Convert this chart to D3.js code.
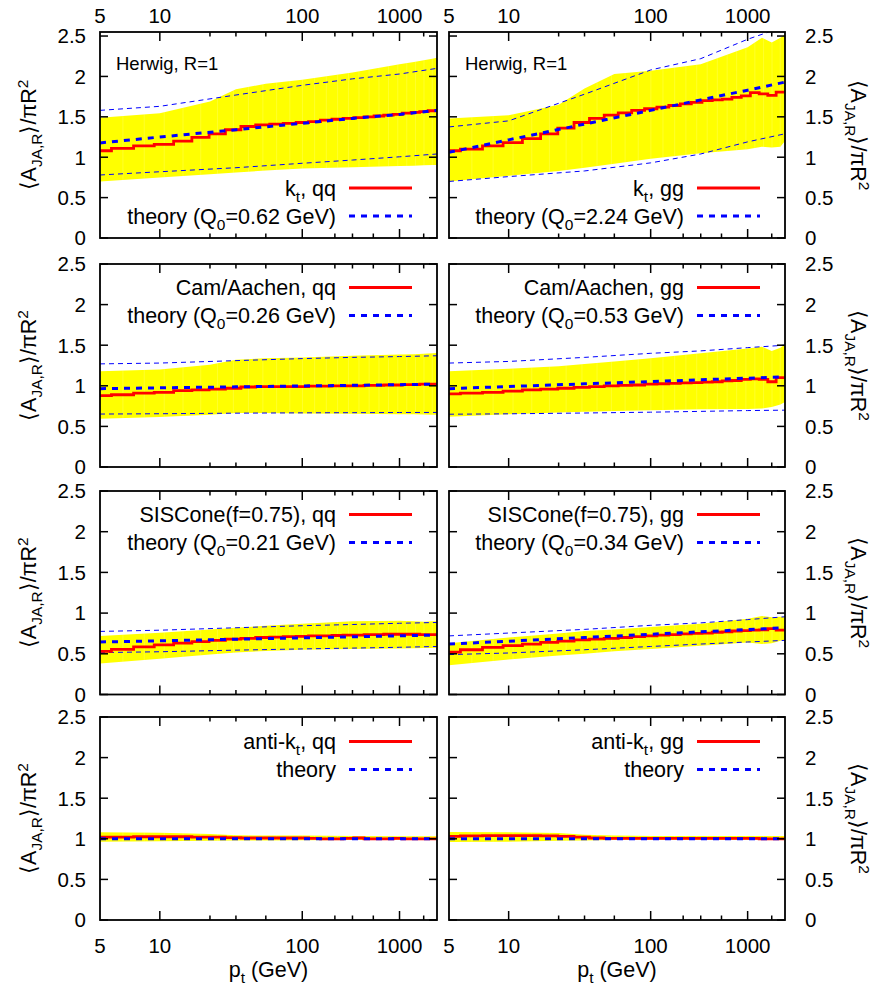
<!DOCTYPE html>
<html><head><meta charset="utf-8">
<script src="https://cdn.jsdelivr.net/npm/d3@7"></script>
<style>
body{margin:0;background:#fff}
svg{display:block}
text{font-family:"Liberation Sans",Arial,Helvetica,sans-serif;fill:#000}
</style>
</head><body>
<svg id="chart" width="876" height="992"></svg>
<script>
// ---------- axis values ----------
const ptGrid = [5, 6.42, 8.24, 10.58, 13.59, 17.45, 22.41, 28.77, 36.95, 47.44, 60.9, 78.2, 100.4, 128.9, 165.6, 212.6, 273.0, 350.5, 450.1, 578, 742, 953, 1224, 1571, 2018, 2591];
const bandPts = [5, 10, 20, 30, 50, 100, 300, 1000, 1500, 2000, 2600, 3000];
const theoryPts = [5, 10, 30, 100, 300, 1000, 3000];
const xTicksMajor = [10, 100, 1000];
const xTicksMinor = [20, 30, 50, 200, 300, 500, 2000];
const xTickLabels = [5, 10, 100, 1000];
const yTicks = [0, 0.5, 1, 1.5, 2, 2.5];
const xDomain = [5, 3000];

// ---------- kt, qq ----------
const ktQQ_mc = [1.08,1.11,1.14,1.16,1.20,1.245,1.29,1.34,1.38,1.40,1.41,1.42,1.43,1.44,1.46,1.47,1.48,1.49,1.50,1.51,1.52,1.53,1.545,1.555,1.565,1.575];
const ktQQ_bandLo = [0.70,0.75,0.79,0.81,0.835,0.86,0.875,0.89,0.895,0.90,0.905,0.905];
const ktQQ_bandHi = [1.49,1.545,1.69,1.84,1.91,1.96,2.05,2.15,2.18,2.20,2.22,2.23];
const ktQQ_theory = [1.177,1.25,1.34,1.42,1.48,1.53,1.58];
const ktQQ_theoryHi = [1.58,1.63,1.77,1.89,1.97,2.03,2.10];
const ktQQ_theoryLo = [0.78,0.82,0.87,0.925,0.965,1.005,1.04];

// ---------- kt, gg ----------
const ktGG_mc = [1.08,1.10,1.14,1.18,1.23,1.29,1.36,1.43,1.48,1.52,1.55,1.58,1.60,1.62,1.64,1.66,1.68,1.70,1.71,1.72,1.74,1.76,1.80,1.785,1.765,1.805];
const ktGG_bandLo = [0.70,0.77,0.83,0.87,0.92,0.98,1.05,1.10,1.13,1.12,1.13,1.20];
const ktGG_bandHi = [1.48,1.52,1.65,1.85,2.03,2.07,2.15,2.36,2.48,2.42,2.48,2.52];
const ktGG_theory = [1.06,1.215,1.41,1.58,1.71,1.83,1.93];
const ktGG_theoryHi = [1.375,1.45,1.78,2.08,2.22,2.46,2.62];
const ktGG_theoryLo = [0.70,0.76,0.83,0.93,1.04,1.19,1.29];

// ---------- Cam/Aachen, qq ----------
const caQQ_mc = [0.88,0.89,0.91,0.92,0.94,0.95,0.96,0.97,0.985,0.99,0.99,0.99,0.99,0.995,0.995,1.0,1.0,1.0,1.005,1.005,1.01,1.01,1.015,1.015,1.02,1.02];
const caQQ_bandLo = [0.595,0.615,0.645,0.665,0.665,0.66,0.655,0.65,0.65,0.648,0.645,0.645];
const caQQ_bandHi = [1.18,1.20,1.26,1.32,1.34,1.35,1.37,1.385,1.39,1.395,1.40,1.405];
const caQQ_theory = [0.965,0.975,0.987,0.998,1.006,1.014,1.02];
const caQQ_theoryHi = [1.27,1.28,1.31,1.335,1.35,1.36,1.37];
const caQQ_theoryLo = [0.652,0.656,0.663,0.667,0.669,0.671,0.672];

// ---------- Cam/Aachen, gg ----------
const caGG_mc = [0.90,0.91,0.92,0.935,0.95,0.96,0.97,0.98,0.99,1.0,1.005,1.01,1.02,1.025,1.03,1.035,1.04,1.045,1.05,1.06,1.065,1.08,1.085,1.08,1.05,1.10];
const caGG_bandLo = [0.62,0.65,0.67,0.68,0.69,0.70,0.71,0.715,0.72,0.74,0.77,0.80];
const caGG_bandHi = [1.18,1.21,1.24,1.27,1.30,1.34,1.40,1.46,1.48,1.43,1.47,1.51];
const caGG_theory = [0.965,0.991,1.024,1.052,1.074,1.094,1.11];
const caGG_theoryHi = [1.28,1.30,1.35,1.40,1.43,1.47,1.50];
const caGG_theoryLo = [0.65,0.655,0.665,0.675,0.685,0.695,0.70];

// ---------- SISCone, qq ----------
const scQQ_mc = [0.53,0.555,0.585,0.61,0.63,0.65,0.665,0.68,0.69,0.70,0.705,0.71,0.715,0.72,0.72,0.725,0.73,0.73,0.735,0.735,0.74,0.74,0.74,0.74,0.735,0.735];
const scQQ_bandLo = [0.38,0.44,0.49,0.515,0.535,0.55,0.56,0.565,0.567,0.57,0.57,0.57];
const scQQ_bandHi = [0.72,0.76,0.80,0.82,0.845,0.87,0.90,0.905,0.90,0.895,0.90,0.90];
const scQQ_theory = [0.645,0.66,0.679,0.696,0.709,0.721,0.73];
const scQQ_theoryHi = [0.775,0.79,0.82,0.845,0.86,0.875,0.885];
const scQQ_theoryLo = [0.515,0.525,0.545,0.56,0.57,0.58,0.59];

// ---------- SISCone, gg ----------
const scGG_mc = [0.52,0.55,0.58,0.60,0.62,0.64,0.655,0.67,0.68,0.69,0.70,0.71,0.72,0.73,0.735,0.745,0.75,0.755,0.765,0.77,0.78,0.785,0.79,0.795,0.81,0.79];
const scGG_bandLo = [0.36,0.43,0.48,0.50,0.53,0.56,0.60,0.64,0.62,0.63,0.66,0.67];
const scGG_bandHi = [0.63,0.70,0.75,0.78,0.80,0.83,0.87,0.93,0.965,0.95,0.955,0.955];
const scGG_theory = [0.62,0.655,0.70,0.74,0.77,0.798,0.82];
const scGG_theoryHi = [0.72,0.755,0.80,0.85,0.88,0.92,0.955];
const scGG_theoryLo = [0.49,0.51,0.55,0.59,0.62,0.645,0.665];

// ---------- anti-kt, qq ----------
const akQQ_mc = [1.02,1.02,1.025,1.025,1.025,1.02,1.02,1.015,1.01,1.01,1.01,1.01,1.01,1.005,1.0,1.0,1.005,1.01,1.0,1.0,1.0,1.005,1.0,1.0,1.0,1.0];
const akQQ_bandLo = [0.965,0.97,0.975,0.978,0.98,0.982,0.985,0.985,0.985,0.985,0.985,0.985];
const akQQ_bandHi = [1.08,1.075,1.06,1.045,1.04,1.04,1.035,1.03,1.03,1.03,1.03,1.03];
const akQQ_theory = [1,1,1,1,1,1,1];

// ---------- anti-kt, gg ----------
const akGG_mc = [1.03,1.035,1.04,1.04,1.04,1.035,1.03,1.02,1.01,1.005,1.005,1.005,1.005,1.005,1.005,1.005,1.005,1.005,1.005,1.005,1.005,1.005,1.005,1.0,1.0,1.0];
const akGG_bandLo = [0.96,0.965,0.975,0.98,0.985,0.985,0.985,0.985,0.985,0.985,0.985,0.985];
const akGG_bandHi = [1.085,1.08,1.07,1.05,1.04,1.035,1.035,1.035,1.035,1.035,1.035,1.035];
const akGG_theory = [1,1,1,1,1,1,1];

// ---------- labels ----------
const legendMC = ["k_{t}, qq","k_{t}, gg","Cam/Aachen, qq","Cam/Aachen, gg","SISCone(f=0.75), qq","SISCone(f=0.75), gg","anti-k_{t}, qq","anti-k_{t}, gg"];
const legendTheory = ["theory (Q_{0}=0.62 GeV)","theory (Q_{0}=2.24 GeV)","theory (Q_{0}=0.26 GeV)","theory (Q_{0}=0.53 GeV)","theory (Q_{0}=0.21 GeV)","theory (Q_{0}=0.34 GeV)","theory","theory"];
const yTitle = "⟨A_{JA,R}⟩/πR^{2}";
const xTitle = "p_{t} (GeV)";
const cornerNote = "Herwig, R=1";

// ---------- layout ----------
const LAMBDA = Math.exp(-1.65);
const tr = v => Math.log(Math.log(v / LAMBDA));
const cols = [{x0:100, x1:437}, {x0:449, x1:785}];
const rows = [{top:32, bottom:238, ymax:2.55, leg:[156,184]},
              {top:264, bottom:467, ymax:2.5, leg:[23.5,51.5]},
              {top:491, bottom:694.5, ymax:2.5, leg:[23.5,51.5]},
              {top:717, bottom:920, ymax:2.5, leg:[24.5,52.5]}];

const panels = [
  {mc:ktQQ_mc, lo:ktQQ_bandLo, hi:ktQQ_bandHi, th:ktQQ_theory, thHi:ktQQ_theoryHi, thLo:ktQQ_theoryLo},
  {mc:ktGG_mc, lo:ktGG_bandLo, hi:ktGG_bandHi, th:ktGG_theory, thHi:ktGG_theoryHi, thLo:ktGG_theoryLo},
  {mc:caQQ_mc, lo:caQQ_bandLo, hi:caQQ_bandHi, th:caQQ_theory, thHi:caQQ_theoryHi, thLo:caQQ_theoryLo},
  {mc:caGG_mc, lo:caGG_bandLo, hi:caGG_bandHi, th:caGG_theory, thHi:caGG_theoryHi, thLo:caGG_theoryLo},
  {mc:scQQ_mc, lo:scQQ_bandLo, hi:scQQ_bandHi, th:scQQ_theory, thHi:scQQ_theoryHi, thLo:scQQ_theoryLo},
  {mc:scGG_mc, lo:scGG_bandLo, hi:scGG_bandHi, th:scGG_theory, thHi:scGG_theoryHi, thLo:scGG_theoryLo},
  {mc:akQQ_mc, lo:akQQ_bandLo, hi:akQQ_bandHi, th:akQQ_theory},
  {mc:akGG_mc, lo:akGG_bandLo, hi:akGG_bandHi, th:akGG_theory}
];

const svg = d3.select("#chart");
const FONT_TICK = 20.5, FONT_LEG = 21.5, FONT_TITLE = 21.5;

function rich(sel, str, size) {
  const parts = str.split(/(_\{[^}]*\}|\^\{[^}]*\})/).filter(s => s.length);
  let back = 0;
  parts.forEach(p => {
    if (p.startsWith("_{")) {
      sel.append("tspan").attr("dy", size*0.28 + back).attr("font-size", size*0.72).text(p.slice(2,-1));
      back = -size*0.28;
    } else if (p.startsWith("^{")) {
      sel.append("tspan").attr("dy", -size*0.38 + back).attr("font-size", size*0.72).text(p.slice(2,-1));
      back = size*0.38;
    } else {
      const t = sel.append("tspan").text(p);
      if (back) t.attr("dy", back);
      back = 0;
    }
  });
  return sel;
}

panels.forEach((P, i) => {
  const ci = i % 2, ri = Math.floor(i / 2);
  const C = cols[ci], R = rows[ri];
  const x = d3.scaleLinear().domain(xDomain.map(tr)).range([C.x0, C.x1]);
  const X = v => x(tr(v));
  const y = d3.scaleLinear().domain([0, R.ymax]).range([R.bottom, R.top]);
  const g = svg.append("g");
  const clipId = "clip" + i;
  g.append("clipPath").attr("id", clipId).append("rect")
    .attr("x", C.x0).attr("y", R.top).attr("width", C.x1 - C.x0).attr("height", R.bottom - R.top);
  const plot = g.append("g").attr("clip-path", `url(#${clipId})`);

  // band
  const area = d3.area().x(d => X(d[0])).y0(d => y(d[1])).y1(d => y(d[2]));
  const bandData = bandPts.map((p, k) => [p, P.lo[k], P.hi[k]]);
  plot.append("path").attr("d", area(bandData)).attr("fill", "#ffff00");
  // faint seams between filled segments
  const bandClip = "bandclip" + i;
  g.append("clipPath").attr("id", bandClip).append("path").attr("d", area(bandData));
  const seams = plot.append("g").attr("clip-path", `url(#${bandClip})`);
  ptGrid.slice(1).forEach(p => {
    seams.append("line").attr("x1", X(p)).attr("x2", X(p)).attr("y1", R.top).attr("y2", R.bottom)
      .attr("stroke", "#fff").attr("stroke-opacity", 0.22).attr("stroke-width", 0.8);
  });

  const line = d3.line().x(d => X(d[0])).y(d => y(d[1]));
  // thin theory envelope
  if (P.thHi) {
    [P.thHi, P.thLo].forEach(arr => {
      plot.append("path").attr("d", line(theoryPts.map((p, k) => [p, arr[k]])))
        .attr("fill", "none").attr("stroke", "#0000ff").attr("stroke-width", 1)
        .attr("stroke-dasharray", "5,4");
    });
  }
  // MC step histogram
  const xs = ptGrid.map(X);
  const n = xs.length;
  const edges = [xs[0] - (xs[1] - xs[0]) / 2];
  for (let k = 0; k < n - 1; k++) edges.push((xs[k] + xs[k+1]) / 2);
  edges.push(xs[n-1] + (xs[n-1] - xs[n-2]) / 2);
  const pth = d3.path();
  P.mc.forEach((v, k) => {
    const yy = y(v);
    if (k === 0) pth.moveTo(edges[0], yy); else pth.lineTo(edges[k], yy);
    pth.lineTo(edges[k+1], yy);
  });
  plot.append("path").attr("d", pth.toString()).attr("fill", "none")
    .attr("stroke", "#ff0000").attr("stroke-width", 2.8);
  // theory
  plot.append("path").attr("d", line(theoryPts.map((p, k) => [p, P.th[k]])))
    .attr("fill", "none").attr("stroke", "#0000ff").attr("stroke-width", 3)
    .attr("stroke-dasharray", "6,6");

  // frame
  g.append("rect").attr("x", C.x0).attr("y", R.top).attr("width", C.x1 - C.x0).attr("height", R.bottom - R.top)
    .attr("fill", "none").attr("stroke", "#000").attr("stroke-width", 1.8);
  // x ticks
  const tk = g.append("g").attr("stroke", "#000").attr("stroke-width", 1.5);
  xTicksMajor.forEach(v => {
    tk.append("line").attr("x1", X(v)).attr("x2", X(v)).attr("y1", R.bottom).attr("y2", R.bottom - 9);
    tk.append("line").attr("x1", X(v)).attr("x2", X(v)).attr("y1", R.top).attr("y2", R.top + 9);
  });
  xTicksMinor.forEach(v => {
    tk.append("line").attr("x1", X(v)).attr("x2", X(v)).attr("y1", R.bottom).attr("y2", R.bottom - 4.5);
    tk.append("line").attr("x1", X(v)).attr("x2", X(v)).attr("y1", R.top).attr("y2", R.top + 4.5);
  });
  yTicks.forEach(v => {
    tk.append("line").attr("x1", C.x0).attr("x2", C.x0 + 8).attr("y1", y(v)).attr("y2", y(v));
    tk.append("line").attr("x1", C.x1).attr("x2", C.x1 - 8).attr("y1", y(v)).attr("y2", y(v));
  });
  // y tick labels
  yTicks.forEach(v => {
    const t = g.append("text").attr("font-size", FONT_TICK).attr("y", y(v)).attr("dy", "0.36em").text(String(v));
    if (ci === 0) t.attr("x", 86).attr("text-anchor", "end");
    else t.attr("x", 805).attr("text-anchor", "start");
  });
  // x tick labels
  if (ri === 0) xTickLabels.forEach(v => g.append("text").attr("font-size", FONT_TICK)
      .attr("x", X(v)).attr("y", 23).attr("text-anchor", "middle").text(String(v)));
  if (ri === 3) {
    xTickLabels.forEach(v => g.append("text").attr("font-size", FONT_TICK)
      .attr("x", X(v)).attr("y", 953).attr("text-anchor", "middle").text(String(v)));
    rich(g.append("text").attr("font-size", FONT_TITLE).attr("x", (C.x0 + C.x1) / 2).attr("y", 977)
      .attr("text-anchor", "middle"), xTitle, FONT_TITLE);
  }
  // y title
  const yc = (R.top + R.bottom) / 2;
  if (ci === 0) {
    rich(g.append("text").attr("font-size", FONT_TITLE).attr("text-anchor", "middle")
      .attr("transform", `translate(36,${yc}) rotate(-90)`), yTitle, FONT_TITLE);
  } else {
    rich(g.append("text").attr("font-size", FONT_TITLE).attr("text-anchor", "middle")
      .attr("transform", `translate(851,${yc}) rotate(90)`), yTitle, FONT_TITLE);
  }
  // corner note
  if (ri === 0) g.append("text").attr("font-size", 18.5).attr("x", C.x0 + 16).attr("y", 70).text(cornerNote);
  // legend
  const ly1 = R.top + R.leg[0], ly2 = R.top + R.leg[1];
  rich(g.append("text").attr("font-size", FONT_LEG).attr("x", C.x1 - 101).attr("y", ly1 + 7.5)
    .attr("text-anchor", "end"), legendMC[i], FONT_LEG);
  g.append("line").attr("x1", C.x1 - 88).attr("x2", C.x1 - 25).attr("y1", ly1).attr("y2", ly1)
    .attr("stroke", "#ff0000").attr("stroke-width", 2.8);
  rich(g.append("text").attr("font-size", FONT_LEG).attr("x", C.x1 - 101).attr("y", ly2 + 7.5)
    .attr("text-anchor", "end"), legendTheory[i], FONT_LEG);
  g.append("line").attr("x1", C.x1 - 88).attr("x2", C.x1 - 25).attr("y1", ly2).attr("y2", ly2)
    .attr("stroke", "#0000ff").attr("stroke-width", 3).attr("stroke-dasharray", "6,6");
});
</script>
</body></html>
